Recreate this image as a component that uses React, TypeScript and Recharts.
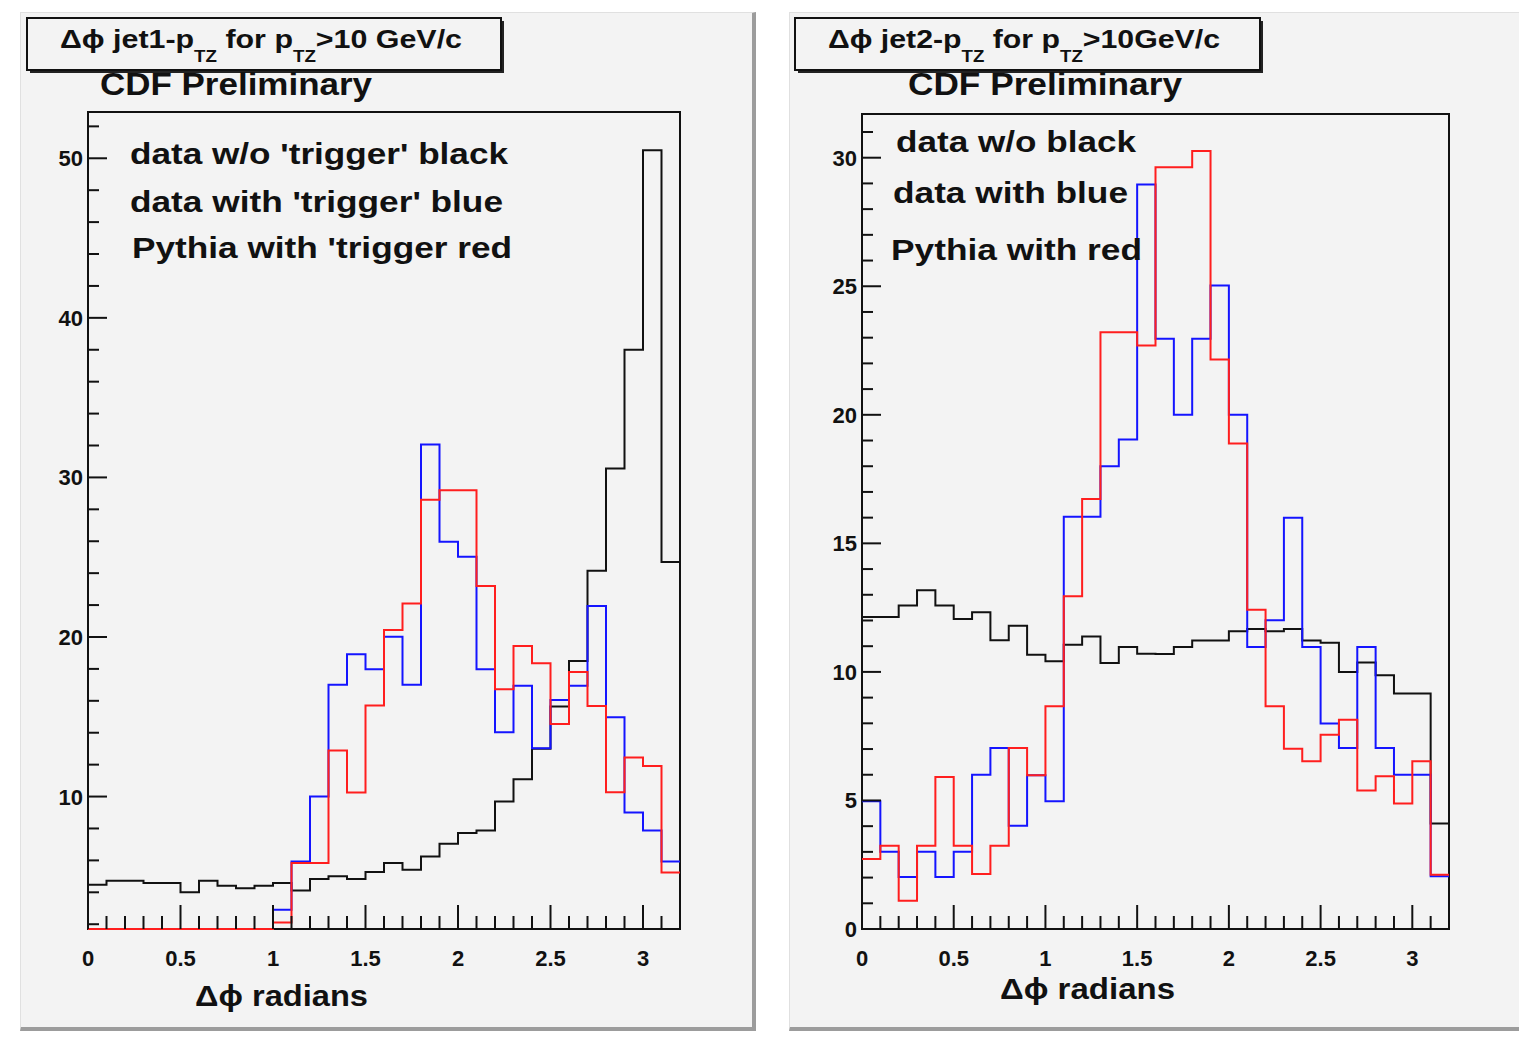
import React from 'react';
import { LineChart, Line, XAxis, YAxis, ReferenceArea } from 'recharts';

// bin low edges (0.1 rad bins), last entry closes the final bin
const BIN_EDGES = [
  0, 0.1, 0.2, 0.3, 0.4, 0.5, 0.6, 0.7, 0.8, 0.9, 1, 1.1, 1.2, 1.3, 1.4, 1.5, 1.6,
  1.7, 1.8, 1.9, 2, 2.1, 2.2, 2.3, 2.4, 2.5, 2.6, 2.7, 2.8, 2.9, 3, 3.1, 3.2,
];
const X_MAJOR = [0, 0.5, 1, 1.5, 2, 2.5, 3];

// jet1 panel
const J1_NO_TRIG = [
  4.47, 4.73, 4.73, 4.58, 4.58, 4.0, 4.73, 4.41, 4.26, 4.41, 4.58, 4.11, 4.83, 5.0, 4.83, 5.27,
  5.83, 5.41, 6.24, 7.04, 7.71, 7.87, 9.69, 11.09, 13.0, 15.64, 18.5, 24.15, 30.56, 38.0, 50.5, 24.7,
];
const J1_TRIG = [
  1.7, 1.7, 1.7, 1.7, 1.7, 1.7, 1.7, 1.7, 1.7, 1.7, 2.9, 5.93, 10.0, 17.0, 18.92, 17.98,
  20.02, 17.0, 32.07, 25.97, 25.03, 17.98, 14.03, 16.95, 13.03, 16.05, 16.95, 21.94, 14.97, 9.0, 7.87, 5.93,
];
const J1_PYTHIA = [
  1.7, 1.7, 1.7, 1.7, 1.7, 1.7, 1.7, 1.7, 1.7, 1.7, 2.1, 5.83, 5.83, 12.88, 10.25, 15.7,
  20.44, 22.1, 28.6, 29.2, 29.2, 23.2, 16.73, 19.44, 18.35, 14.55, 17.8, 15.68, 10.27, 12.44, 11.92, 5.24,
];
const J1_Y_TICKS = [2, 4, 6, 8, 10, 12, 14, 16, 18, 20, 22, 24, 26, 28, 30, 32, 34, 36, 38, 40, 42, 44, 46, 48, 50, 52];
const J1_Y_MAJOR = [10, 20, 30, 40, 50];

// jet2 panel
const J2_NO_TRIG = [
  12.14, 12.14, 12.58, 13.18, 12.58, 12.06, 12.32, 11.23, 11.8, 10.67, 10.41, 11.06, 11.38, 10.35, 10.97, 10.71,
  10.7, 10.97, 11.22, 11.22, 11.58, 11.67, 11.58, 11.67, 11.22, 11.13, 10.0, 10.37, 9.87, 9.16, 9.16, 4.1,
];
const J2_TRIG = [
  4.97, 3.0, 2.02, 3.0, 2.02, 3.0, 6.0, 7.04, 4.02, 5.98, 4.97, 16.03, 16.03, 18.0, 19.04, 28.96,
  22.96, 20.0, 22.96, 25.03, 20.0, 10.97, 12.01, 16.0, 10.97, 7.99, 7.04, 10.97, 7.04, 6.0, 6.0, 2.05,
];
const J2_PYTHIA = [
  2.72, 3.24, 1.1, 3.24, 5.91, 3.24, 2.14, 3.24, 7.04, 5.98, 8.66, 12.94, 16.73, 23.21, 23.21, 22.7,
  29.63, 29.63, 30.26, 22.15, 18.88, 12.42, 8.66, 7.01, 6.52, 7.56, 8.14, 5.39, 5.94, 4.88, 6.52, 2.11,
];
const J2_Y_TICKS = [
  0, 1, 2, 3, 4, 5, 6, 7, 8, 9, 10, 11, 12, 13, 14, 15, 16, 17, 18, 19, 20, 21, 22, 23, 24, 25, 26, 27, 28, 29, 30, 31,
];
const J2_Y_MAJOR = [0, 5, 10, 15, 20, 25, 30];

const FONT = '"Liberation Sans", Arial, Helvetica, sans-serif';
const PAD_BG = '#f3f3f3';

const buildRows = (black: number[], blue: number[], red: number[]) =>
  BIN_EDGES.map((x, i) => {
    const k = Math.min(i, black.length - 1);
    return { x, black: black[k], blue: blue[k], red: red[k] };
  });

const isIn = (list: number[], v: number) => list.some((m) => Math.abs(m - v) < 1e-6);

const XTick = (props: any) => {
  const { x, y, payload } = props;
  const major = isIn(X_MAJOR, payload.value);
  return (
    <g>
      <line x1={x} x2={x} y1={y} y2={y - (major ? 24 : 13)} stroke="#111" strokeWidth={2} />
      {major && (
        <text x={x} y={y + 37} textAnchor="middle" fontFamily={FONT} fontWeight="bold" fontSize={22} fill="#111">
          {payload.value}
        </text>
      )}
    </g>
  );
};

const makeYTick = (majors: number[]) => (props: any) => {
  const { x, y, payload } = props;
  const major = isIn(majors, payload.value);
  return (
    <g>
      <line x1={x} x2={x + (major ? 19 : 11)} y1={y} y2={y} stroke="#111" strokeWidth={2} />
      {major && (
        <text x={x - 5} y={y + 8} textAnchor="end" fontFamily={FONT} fontWeight="bold" fontSize={22} fill="#111">
          {payload.value}
        </text>
      )}
    </g>
  );
};

interface PanelProps {
  rows: any[];
  yDomain: [number, number];
  yTicks: number[];
  yMajor: number[];
  width: number;
  margin: { top: number; right: number; bottom: number; left: number };
}

function Panel({ rows, yDomain, yTicks, yMajor, width, margin }: PanelProps) {
  return (
    <LineChart width={width} height={1038} data={rows} margin={margin}>
      <XAxis
        dataKey="x"
        type="number"
        domain={[0, 3.2]}
        ticks={BIN_EDGES}
        interval={0}
        tick={XTick}
        tickLine={false}
        axisLine={false}
        tickSize={0}
        tickMargin={0}
        height={109}
      />
      <YAxis
        type="number"
        domain={yDomain}
        ticks={yTicks}
        interval={0}
        tick={makeYTick(yMajor)}
        tickLine={false}
        axisLine={false}
        tickSize={0}
        tickMargin={0}
        width={60}
      />
      <ReferenceArea x1={0} x2={3.2} y1={yDomain[0]} y2={yDomain[1]} fill="none" stroke="#111" strokeWidth={2} />
      <Line type="stepAfter" dataKey="black" stroke="#111" strokeWidth={2} dot={false} activeDot={false} isAnimationActive={false} />
      <Line type="stepAfter" dataKey="blue" stroke="#1414ff" strokeWidth={2} dot={false} activeDot={false} isAnimationActive={false} />
      <Line type="stepAfter" dataKey="red" stroke="#ff1e1e" strokeWidth={2} dot={false} activeDot={false} isAnimationActive={false} />
    </LineChart>
  );
}

const padStyle = (left: number, width: number): React.CSSProperties => ({
  position: 'absolute',
  left,
  top: 12,
  width,
  height: 1014,
  background: PAD_BG,
  borderTop: '1px solid #e0e0e0',
  borderLeft: '1px solid #e0e0e0',
  borderRight: '4px solid #9c9c9c',
  borderBottom: '4px solid #9c9c9c',
});

const txt = { fontFamily: FONT, fontWeight: 'bold' as const, fill: '#111' };

function TitleBox({ x, w, label, textX, textLen, tail }: { x: number; w: number; label: string; textX: number; textLen: number; tail: string }) {
  return (
    <g>
      <rect x={x + 3} y={21} width={w} height={52} fill="#222" />
      <rect x={x} y={18} width={w} height={52} fill={PAD_BG} stroke="#111" strokeWidth={2} />
      <text x={textX} y={48} fontSize={26} textLength={textLen} lengthAdjust="spacingAndGlyphs" {...txt}>
        {label}
        <tspan fontSize={16} dy={14}>TZ</tspan>
        <tspan dy={-14}> for p</tspan>
        <tspan fontSize={16} dy={14}>TZ</tspan>
        <tspan dy={-14}>{tail}</tspan>
      </text>
    </g>
  );
}

export default function App() {
  const rows1 = buildRows(J1_NO_TRIG, J1_TRIG, J1_PYTHIA);
  const rows2 = buildRows(J2_NO_TRIG, J2_TRIG, J2_PYTHIA);
  return (
    <div style={{ position: 'absolute', left: 0, top: 0, width: 1519, height: 1038, background: '#fff', overflow: 'hidden' }}>
      <div style={padStyle(20, 731)} />
      <div style={padStyle(789, 740)} />

      <div style={{ position: 'absolute', left: 0, top: 0 }}>
        <Panel
          rows={rows1}
          yDomain={[1.7, 52.9]}
          yTicks={J1_Y_TICKS}
          yMajor={J1_Y_MAJOR}
          width={760}
          margin={{ top: 112, right: 80, bottom: 0, left: 28 }}
        />
      </div>
      <div style={{ position: 'absolute', left: 770, top: 0 }}>
        <Panel
          rows={rows2}
          yDomain={[0, 31.7]}
          yTicks={J2_Y_TICKS}
          yMajor={J2_Y_MAJOR}
          width={749}
          margin={{ top: 114, right: 70, bottom: 0, left: 32 }}
        />
      </div>

      <svg width={1519} height={1038} style={{ position: 'absolute', left: 0, top: 0, pointerEvents: 'none' }}>
        <TitleBox x={27} w={474} label={'\u0394\u03d5 jet1-p'} textX={60} textLen={402} tail={'>10 GeV/c'} />
        <text x={100} y={95} fontSize={31} textLength={272} lengthAdjust="spacingAndGlyphs" {...txt}>CDF Preliminary</text>
        <text x={130} y={164} fontSize={29} textLength={378} lengthAdjust="spacingAndGlyphs" {...txt}>data w/o 'trigger' black</text>
        <text x={130} y={212} fontSize={29} textLength={373} lengthAdjust="spacingAndGlyphs" {...txt}>data with 'trigger' blue</text>
        <text x={132} y={258} fontSize={29} textLength={380} lengthAdjust="spacingAndGlyphs" {...txt}>Pythia with 'trigger red</text>
        <text x={195} y={1006} fontSize={30} textLength={173} lengthAdjust="spacingAndGlyphs" {...txt}>{'\u0394\u03d5 radians'}</text>

        <TitleBox x={795} w={465} label={'\u0394\u03d5 jet2-p'} textX={828} textLen={392} tail={'>10GeV/c'} />
        <text x={908} y={95} fontSize={31} textLength={274} lengthAdjust="spacingAndGlyphs" {...txt}>CDF Preliminary</text>
        <text x={896} y={152} fontSize={29} textLength={240} lengthAdjust="spacingAndGlyphs" {...txt}>data w/o black</text>
        <text x={893} y={203} fontSize={29} textLength={235} lengthAdjust="spacingAndGlyphs" {...txt}>data with blue</text>
        <text x={891} y={260} fontSize={29} textLength={251} lengthAdjust="spacingAndGlyphs" {...txt}>Pythia with red</text>
        <text x={1000} y={999} fontSize={30} textLength={175} lengthAdjust="spacingAndGlyphs" {...txt}>{'\u0394\u03d5 radians'}</text>
      </svg>
    </div>
  );
}
